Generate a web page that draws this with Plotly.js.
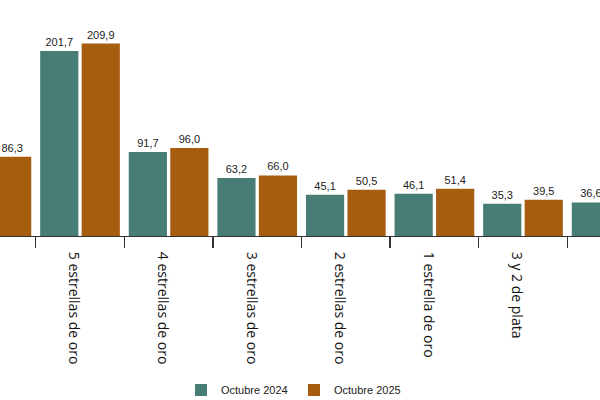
<!DOCTYPE html>
<html>
<head>
<meta charset="utf-8">
<script src="https://cdn.plot.ly/plotly-3.0.1.min.js"></script>
<style>
html,body{margin:0;padding:0;background:#fff;}
#chart{width:600px;height:400px;}
</style>
</head>
<body>
<div id="chart"></div>
<script>
const categories = ["Total", "5 estrellas de oro", "4 estrellas de oro", "3 estrellas de oro", "2 estrellas de oro", "1 estrella de oro", "3 y 2 de plata", "1 estrella de plata"];
const octubre2024 = [82.0, 201.7, 91.7, 63.2, 45.1, 46.1, 35.3, 36.6];
const octubre2025 = [86.3, 209.9, 96.0, 66.0, 50.5, 51.4, 39.5, 40.2];
const seriesNames = ["Octubre 2024", "Octubre 2025"];

const textFont = {family: "Liberation Sans, Arial, sans-serif", size: 11, color: "#222"};

const traces = [
  {type: "bar", name: seriesNames[0], x: categories, y: octubre2024,
   marker: {color: "#487d76"}, texttemplate: "%{y:.1f}", textposition: "outside",
   textfont: textFont, cliponaxis: false, hoverinfo: "none"},
  {type: "bar", name: seriesNames[1], x: categories, y: octubre2025,
   marker: {color: "#a65d10"}, texttemplate: "%{y:.1f}", textposition: "outside",
   textfont: textFont, cliponaxis: false, hoverinfo: "none"}
];

const layout = {
  width: 600, height: 400,
  margin: {l: 0, r: 0, t: 0, b: 164},
  paper_bgcolor: "#fff", plot_bgcolor: "#fff",
  separators: ",.",
  barmode: "group", bargap: 0.063, bargroupgap: 0.08,
  showlegend: true,
  legend: {orientation: "h", xref: "container", yref: "container",
           x: 0.49, xanchor: "center", y: 0.025, yanchor: "middle",
           itemwidth: 30, entrywidth: 68,
           font: {family: "Liberation Sans, Arial, sans-serif", size: 11, color: "#222"}},
  xaxis: {type: "category", range: [0.097, 6.869], tickangle: 90,
          tickfont: {family: "Open Sans, sans-serif", size: 14, color: "#111"},
          showline: true, linecolor: "#333", linewidth: 1,
          ticks: "outside", tickson: "boundaries", ticklen: 11, tickwidth: 1.5, tickcolor: "#333",
          ticklabelshift: -6, ticklabelstandoff: 12, automargin: false,
          showgrid: false, zeroline: false, fixedrange: true},
  yaxis: {range: [0, 257.4], visible: false, showgrid: false, zeroline: false, fixedrange: true}
};

Plotly.newPlot("chart", traces, layout, {staticPlot: true, displayModeBar: false});
</script>
</body>
</html>
